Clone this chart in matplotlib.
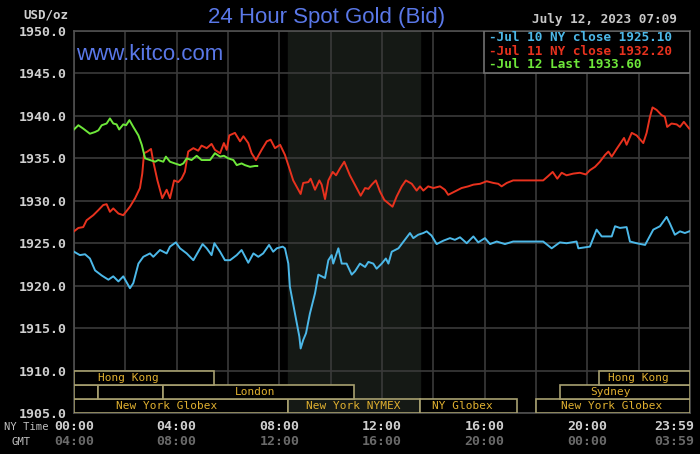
import matplotlib
matplotlib.use('Agg')
import matplotlib.pyplot as plt
from matplotlib.patches import Rectangle

# Jul 10 (blue): hours NY time, price
jul10_h = [0, 0.23, 0.43, 0.62, 0.82, 1.08, 1.34, 1.53, 1.73, 1.92, 2.18, 2.31, 2.51, 2.70,
           2.96, 3.09, 3.35, 3.61, 3.74, 3.97, 4.13, 4.39, 4.65, 4.84, 5.01, 5.17, 5.36, 5.47,
           5.69, 5.88, 6.08, 6.34, 6.53, 6.79, 6.99, 7.18, 7.37, 7.60, 7.76, 7.90, 8.13, 8.22,
           8.35, 8.41, 8.61, 8.78, 8.83, 8.93, 9.04, 9.19, 9.39, 9.52, 9.65, 9.78, 9.91, 10.04,
           10.10, 10.30, 10.43, 10.62, 10.82, 10.95, 11.14, 11.34, 11.47, 11.66, 11.79, 11.99,
           12.15, 12.25, 12.38, 12.64, 12.89, 13.09, 13.22, 13.41, 13.61, 13.74, 13.93, 14.13,
           14.39, 14.65, 14.84, 15.04, 15.30, 15.56, 15.75, 16.01, 16.21, 16.47, 16.79, 17.11,
           18.28, 18.61, 18.93, 19.19, 19.58, 19.65, 20.10, 20.36, 20.56, 20.95, 21.08, 21.27,
           21.53, 21.66, 21.92, 22.25, 22.57, 22.83, 23.09, 23.22, 23.41, 23.61, 23.80, 23.97]
jul10_v = [1924.0, 1923.6, 1923.7, 1923.2, 1921.8, 1921.2, 1920.7, 1921.1, 1920.5, 1921.1,
           1919.7, 1920.3, 1922.6, 1923.4, 1923.8, 1923.4, 1924.2, 1923.8, 1924.6, 1925.1,
           1924.4, 1923.8, 1923.0, 1924.0, 1924.9, 1924.4, 1923.6, 1925.0, 1924.0, 1923.0,
           1923.0, 1923.6, 1924.2, 1922.7, 1923.8, 1923.4, 1923.8, 1924.8, 1924.0, 1924.4,
           1924.6, 1924.4, 1922.6, 1919.9, 1916.7, 1914.0, 1912.6, 1913.6, 1914.4, 1916.7,
           1919.1, 1921.3, 1921.1, 1920.9, 1923.0, 1923.6, 1922.6, 1924.4, 1922.6, 1922.6,
           1921.3, 1921.7, 1922.6, 1922.2, 1922.8, 1922.6, 1922.0, 1922.6, 1923.2, 1922.6,
           1924.0, 1924.4, 1925.4, 1926.2, 1925.6, 1926.0, 1926.2, 1926.4, 1925.9, 1924.9,
           1925.3, 1925.6, 1925.4, 1925.7, 1925.0, 1925.8, 1925.1, 1925.6, 1924.9, 1925.2,
           1924.9, 1925.2, 1925.2, 1924.4, 1925.1, 1925.0, 1925.2, 1924.4, 1924.6, 1926.6,
           1925.8, 1925.8, 1927.0, 1926.8, 1926.9, 1925.2, 1925.0, 1924.8, 1926.6, 1927.0,
           1928.1, 1927.3, 1926.0, 1926.4, 1926.2, 1926.4]

# Jul 11 (red)
jul11_h = [0, 0.17, 0.36, 0.49, 0.75, 0.95, 1.14, 1.27, 1.40, 1.53, 1.73, 1.92, 2.18, 2.38,
           2.57, 2.66, 2.73, 2.86, 3.00, 3.09, 3.25, 3.44, 3.61, 3.74, 3.90, 4.06, 4.19, 4.32,
           4.45, 4.65, 4.84, 4.97, 5.17, 5.36, 5.49, 5.69, 5.84, 5.95, 6.05, 6.27, 6.47, 6.60,
           6.79, 6.92, 7.09, 7.31, 7.51, 7.66, 7.83, 8.03, 8.22, 8.35, 8.54, 8.74, 8.83, 8.93,
           9.13, 9.22, 9.39, 9.56, 9.65, 9.78, 9.91, 10.08, 10.21, 10.36, 10.53, 10.75, 11.01,
           11.17, 11.34, 11.47, 11.60, 11.76, 11.92, 12.09, 12.25, 12.41, 12.57, 12.77, 12.93,
           13.16, 13.35, 13.48, 13.61, 13.80, 14.00, 14.26, 14.45, 14.58, 14.84, 15.10, 15.36,
           15.56, 15.82, 16.08, 16.34, 16.53, 16.66, 16.86, 17.11, 17.50, 18.28, 18.47, 18.65,
           18.83, 19.00, 19.19, 19.45, 19.71, 19.94, 20.10, 20.30, 20.49, 20.69, 20.82, 20.95,
           21.14, 21.34, 21.43, 21.53, 21.73, 21.92, 22.18, 22.31, 22.44, 22.54, 22.70, 22.89,
           23.02, 23.11, 23.28, 23.48, 23.61, 23.76, 23.97]
jul11_v = [1926.4, 1926.8, 1926.9, 1927.7, 1928.3, 1928.9, 1929.5, 1929.6, 1928.7, 1929.1,
           1928.5, 1928.3, 1929.3, 1930.3, 1931.5, 1933.2, 1935.6, 1935.8, 1936.1, 1934.6,
           1932.4, 1930.3, 1931.3, 1930.3, 1932.4, 1932.2, 1932.6, 1933.4, 1935.8, 1936.2,
           1935.9, 1936.5, 1936.2, 1936.7, 1936.0, 1935.6, 1936.8, 1936.0, 1937.7, 1938.0,
           1937.0, 1937.6, 1936.8, 1935.6, 1934.8, 1936.0, 1937.0, 1937.2, 1936.2, 1936.6,
           1935.4, 1934.2, 1932.4, 1931.3, 1930.8, 1932.1, 1932.2, 1932.6, 1931.3, 1932.4,
           1931.9, 1930.2, 1932.4, 1933.4, 1933.0, 1933.8, 1934.6, 1933.0, 1931.5, 1930.6,
           1931.5, 1931.4, 1931.9, 1932.4, 1931.1, 1930.1, 1929.7, 1929.3, 1930.5, 1931.7,
           1932.4, 1932.0, 1931.2, 1931.7, 1931.2, 1931.7, 1931.5, 1931.7, 1931.3, 1930.7,
           1931.1, 1931.5, 1931.7, 1931.9, 1932.0, 1932.3, 1932.1, 1932.0, 1931.7, 1932.1,
           1932.4, 1932.4, 1932.4, 1932.9, 1933.4, 1932.6, 1933.3, 1933.0, 1933.2, 1933.3,
           1933.1, 1933.6, 1934.0, 1934.6, 1935.4, 1935.8, 1935.2, 1936.1, 1937.0, 1937.4,
           1936.6, 1938.0, 1937.7, 1936.8, 1938.0, 1939.9, 1941.0, 1940.7, 1940.1, 1939.9,
           1938.7, 1939.1, 1939.0, 1938.7, 1939.3, 1938.5]

# Jul 12 (green), up to 07:09
jul12_h = [0, 0.17, 0.36, 0.62, 0.82, 0.95, 1.08, 1.27, 1.40, 1.53, 1.66, 1.76, 1.92, 2.03,
           2.16, 2.31, 2.51, 2.64, 2.77, 2.96, 3.16, 3.28, 3.48, 3.58, 3.74, 3.93, 4.13, 4.26,
           4.39, 4.58, 4.78, 4.97, 5.10, 5.30, 5.49, 5.69, 5.84, 6.01, 6.21, 6.34, 6.53, 6.66,
           6.86, 7.05, 7.14]
jul12_v = [1938.4, 1938.9, 1938.5, 1937.9, 1938.1, 1938.3, 1938.9, 1939.1, 1939.7, 1939.1,
           1939.0, 1938.4, 1939.0, 1938.9, 1939.5, 1938.7, 1937.7, 1936.6, 1935.0, 1934.8,
           1934.6, 1934.8, 1934.6, 1935.2, 1934.6, 1934.4, 1934.2, 1934.4, 1935.0, 1934.8,
           1935.3, 1934.8, 1934.8, 1934.8, 1935.6, 1935.2, 1935.3, 1935.0, 1934.8, 1934.2,
           1934.4, 1934.2, 1934.0, 1934.1, 1934.1]

series_labels = ['Jul 10 NY close 1925.10', 'Jul 11 NY close 1932.20', 'Jul 12 Last 1933.60']
series_colors = ['#4cb8e8', '#e8321e', '#6ee83a']

# trading sessions: (start, end, row, label, label centre)
sessions = [
    (0, 8.33, 0, 'New York Globex', 3.62),
    (8.33, 13.5, 0, 'New York NYMEX', 10.87),
    (13.5, 17.25, 0, 'NY Globex', 15.15),
    (18.0, 24, 0, 'New York Globex', 20.96),
    (0, 0.95, 1, '', 0),
    (0.95, 3.45, 1, '', 0),
    (3.45, 10.9, 1, 'London', 7.05),
    (18.95, 24, 1, 'Sydney', 20.92),
    (0, 5.45, 2, 'Hong Kong', 2.1),
    (20.45, 24, 2, 'Hong Kong', 21.97),
]
nymex_span = (8.33, 13.5)

ny_ticks = [0, 4, 8, 12, 16, 20, 24]
ny_labels = ['00:00', '04:00', '08:00', '12:00', '16:00', '20:00', '23:59']
gmt_labels = ['04:00', '08:00', '12:00', '16:00', '20:00', '00:00', '03:59']

mono = 'DejaVu Sans Mono'
bg = '#000000'
grid_c = '#3a3a3a'
box_c = '#a8a070'
sess_txt = '#e0b030'

fig = plt.figure(figsize=(7.0, 4.54), dpi=100, facecolor=bg)
ax = fig.add_axes([74 / 700, 1 - 413 / 454, 616 / 700, 382 / 454])
ax.set_facecolor(bg)
ax.set_xlim(0, 24)
ax.set_ylim(1905, 1950)

ax.axvspan(*nymex_span, color='#151915', zorder=0)

ax.set_xticks(range(0, 25, 2))
ax.set_yticks(range(1905, 1951, 5))
ax.grid(True, color=grid_c, lw=1.2, zorder=1)
ax.tick_params(axis='x', length=0, labelbottom=False)
ax.tick_params(axis='y', length=0, pad=5, labelcolor='#d0d0d0', labelsize=9.5)
ax.set_yticklabels(['%.1f' % v for v in range(1905, 1951, 5)],
                   fontfamily=mono, fontweight='bold')
for s in ax.spines.values():
    s.set_color('#505050')
    s.set_linewidth(1.2)

# session boxes along the bottom
row_h = 0.0368
trans = ax.get_xaxis_transform()
for start, end, row, label, lx in sessions:
    y0 = row * row_h
    fill = '#151915' if label == 'New York NYMEX' else bg
    ax.add_patch(Rectangle((start, y0), end - start, row_h, transform=trans,
                           facecolor=fill, edgecolor=box_c, lw=1.2, zorder=3))
    if label:
        ax.text(lx, y0 + row_h / 2, label, transform=trans, ha='center', va='center',
                color=sess_txt, fontsize=8, fontfamily=mono, zorder=4)

ax.plot(jul10_h, jul10_v, color=series_colors[0], lw=1.4, zorder=5)
ax.plot(jul11_h, jul11_v, color=series_colors[1], lw=1.4, zorder=5)
ax.plot(jul12_h, jul12_v, color=series_colors[2], lw=1.4, zorder=6)

# legend box, drawn by hand to get the tight rows
ax.add_patch(Rectangle((0.6656, 0.890), 0.3344, 0.110, transform=ax.transAxes,
                       facecolor=bg, edgecolor='#707070', lw=1.2, zorder=9))
for i, (lab, c) in enumerate(zip(series_labels, series_colors)):
    ax.text(0.6736, 0.982 - i * 0.0355, '-' + lab, transform=ax.transAxes,
            ha='left', va='center', color=c, fontsize=9.2, fontfamily=mono,
            fontweight='bold', zorder=10)

# time labels under the axis
for i, (h, a, b) in enumerate(zip(ny_ticks, ny_labels, gmt_labels)):
    ha = 'right' if i == len(ny_ticks) - 1 else 'center'
    x = h + 0.15 if ha == 'right' else h
    ax.text(x, -0.036, a, transform=trans, ha=ha, va='center', color='#d0d0d0',
            fontsize=9.5, fontfamily=mono, fontweight='bold')
    ax.text(x, -0.075, b, transform=trans, ha=ha, va='center', color='#6a6a6a',
            fontsize=9.5, fontfamily=mono, fontweight='bold')

fig.text(49 / 700, 1 - 427 / 454, 'NY Time', ha='right', va='center', color='#c0c0c0',
         fontsize=7.6, fontfamily=mono)
fig.text(21 / 700, 1 - 442 / 454, 'GMT', ha='center', va='center', color='#c0c0c0',
         fontsize=7.6, fontfamily=mono)
fig.text(68 / 700, 1 - 15 / 454, 'USD/oz', ha='right', va='center', color='#d0d0d0',
         fontsize=9, fontfamily=mono, fontweight='bold')
fig.text(327 / 700, 1 - 18 / 454, '24 Hour Spot Gold (Bid)', ha='center', va='center',
         color='#5a78e8', fontsize=16, fontfamily='Liberation Sans')
fig.text(677 / 700, 1 - 19 / 454, 'July 12, 2023 07:09', ha='right', va='center',
         color='#c8c8c8', fontsize=9.2, fontfamily=mono, fontweight='bold')
fig.text(76 / 700, 1 - 54 / 454, 'www.kitco.com', ha='left', va='center',
         color='#5a78e8', fontsize=16, fontfamily='Liberation Sans')

fig.savefig('out.png', dpi=100, facecolor=bg)
